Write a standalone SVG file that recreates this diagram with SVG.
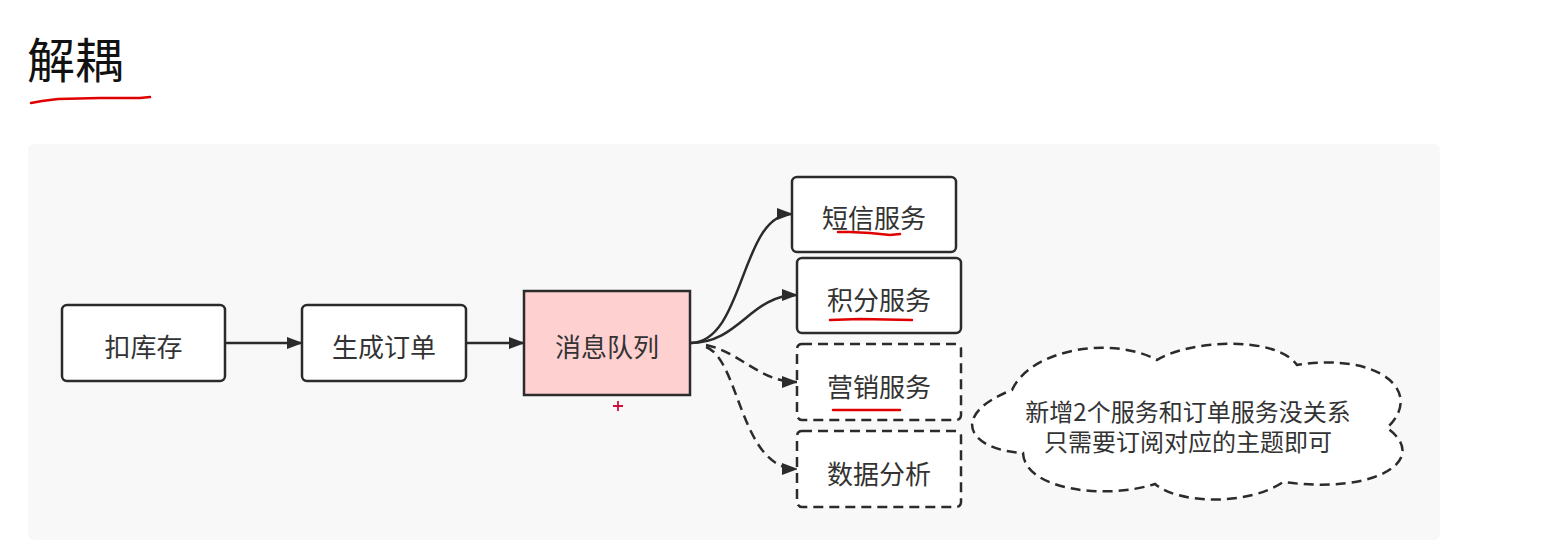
<svg xmlns="http://www.w3.org/2000/svg" width="1567" height="554" viewBox="0 0 1567 554">
<style>
.node{fill:#fff;stroke:#2b2b2b;stroke-width:2.5}
.dash{stroke-dasharray:10 6}
.lbl{font-family:"Noto Sans CJK SC","Noto Sans",sans-serif;font-size:26px;fill:#333;text-anchor:middle;dominant-baseline:central}
.cl{font-family:"Noto Sans CJK SC","Noto Sans",sans-serif;font-size:24px;fill:#333;text-anchor:middle;dominant-baseline:central}
.edge{fill:none;stroke:#2b2b2b;stroke-width:2.5}
.red{fill:none;stroke:#e00000;stroke-width:2.5;stroke-linecap:round}
</style>
<defs>
<marker id="ah" viewBox="0 0 16 12" refX="15" refY="6" markerWidth="16" markerHeight="12" markerUnits="userSpaceOnUse" orient="auto">
<path d="M0,0 L16,6 L0,12 Z" fill="#2b2b2b"/>
</marker>
</defs>
<rect width="1567" height="554" fill="#fff"/>
<text x="27" y="57" font-family="'Noto Sans CJK SC',sans-serif" font-size="48" fill="#111" dominant-baseline="central">解耦</text>
<path class="red" d="M31 103 L42 101 L58 99 L100 98 L140 98 L150 97"/>
<rect x="28" y="144" width="1412" height="396" rx="6" fill="#f8f8f8"/>
<g id="connectors">
<path class="edge" d="M225 343 L302 343" marker-end="url(#ah)"/>
<path class="edge" d="M466 343 L524 343" marker-end="url(#ah)"/>
<path class="edge" d="M690 343 C745 343 740 214 792 214" marker-end="url(#ah)"/>
<path class="edge" d="M690 343 C740 343 750 295 797 295" marker-end="url(#ah)"/>
<path class="edge dash" d="M706 345 C740 352 760 382 797 382" marker-end="url(#ah)"/>
<path class="edge dash" d="M706 347 C740 360 740 469 797 469" marker-end="url(#ah)"/>
</g>
<g id="n1"><rect class="node" x="62" y="305" width="163" height="76" rx="5"/><text class="lbl" x="143.5" y="345">扣库存</text></g>
<g id="n2"><rect class="node" x="302" y="305" width="164" height="76" rx="5"/><text class="lbl" x="384" y="345">生成订单</text></g>
<g id="n3"><rect x="524" y="291" width="166" height="104" fill="#ffd0d0" stroke="#2b2b2b" stroke-width="2.5"/><text class="lbl" x="607" y="345">消息队列</text></g>
<g id="n4"><rect class="node" x="792" y="177" width="164" height="75" rx="5"/><text class="lbl" x="874" y="216">短信服务</text><path class="red" d="M838 232 L850 232 L870 233 L890 235 L900 234"/></g>
<g id="n5"><rect class="node" x="797" y="258" width="164" height="75" rx="5"/><text class="lbl" x="879" y="298">积分服务</text><path class="red" d="M830 320 L860 319 L912 320"/></g>
<g id="n6"><rect class="node dash" x="797" y="344" width="164" height="76" rx="5"/><text class="lbl" x="879" y="385">营销服务</text><path class="red" d="M833 410 L900 410"/></g>
<g id="n7"><rect class="node dash" x="797" y="431" width="164" height="76" rx="5"/><text class="lbl" x="879" y="472">数据分析</text></g>
<g id="cloud">
<path class="node dash" d="M1012 390 C1030 350 1110 335 1157 360 C1190 340 1275 335 1297 365 C1380 352 1425 392 1387 428 C1430 458 1380 495 1283 482 C1250 505 1180 505 1155 484 C1105 500 1025 490 1023 453 C968 450 948 415 1012 390 Z"/>
<text class="cl" x="1188" y="410">新增2个服务和订单服务没关系</text>
<text class="cl" x="1188" y="440">只需要订阅对应的主题即可</text>
</g>
<path d="M618 401 V411 M613 406 H623" stroke="#d0103a" stroke-width="1.8"/>
</svg>
